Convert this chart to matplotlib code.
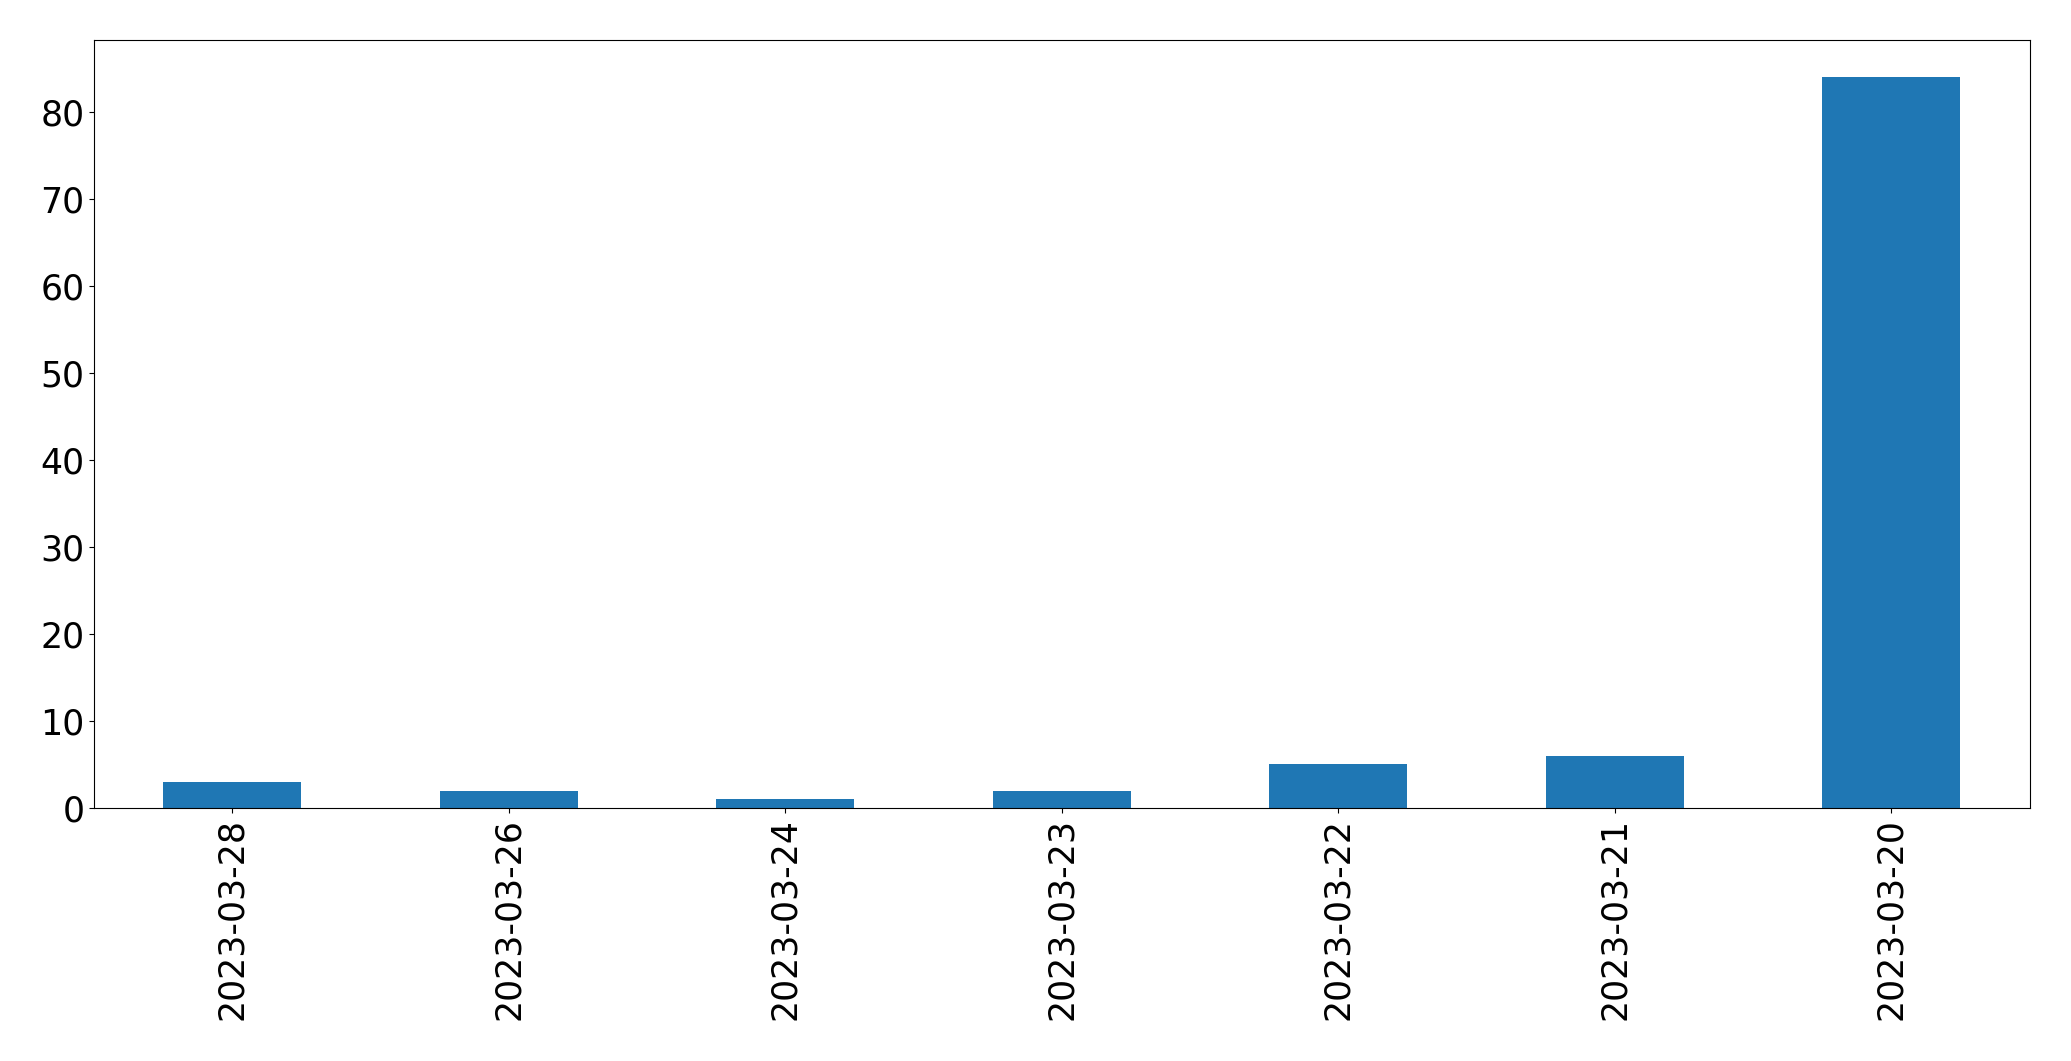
import matplotlib
matplotlib.use("Agg")
import matplotlib.pyplot as plt

dates = ["2023-03-28", "2023-03-26", "2023-03-24", "2023-03-23", "2023-03-22", "2023-03-21", "2023-03-20"]
counts = [3, 2, 1, 2, 5, 6, 84]

fig = plt.figure(figsize=(20.71, 10.61), dpi=100)
ax = fig.add_axes([0.0454, 0.2385, 0.9346, 0.7235])
x = list(range(len(dates)))
ax.bar(x, counts, width=0.5, color="#1f77b4")
ax.set_xlim(-0.5, len(dates) - 0.5)
ax.set_xticks(x)
ax.set_xticklabels(dates, rotation=90)
ax.tick_params(labelsize=25)
fig.savefig("out.png", dpi=100)
